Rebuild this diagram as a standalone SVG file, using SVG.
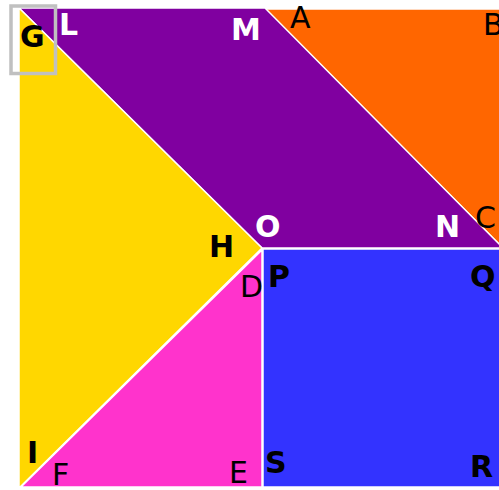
<svg xmlns="http://www.w3.org/2000/svg" width="499" height="490" viewBox="0 0 499 490">
<style>
.p{stroke:#ffffff;stroke-width:1.5;stroke-linejoin:round}
text{font-family:"DejaVu Sans",sans-serif;font-size:30px}
.b{font-weight:bold}
.k{fill:#000000}
.w{fill:#ffffff}
</style>
<rect width="499" height="490" fill="#ffffff"/>
<g id="orange"><polygon class="p" fill="#ff6600" points="265,9 503,9 503,248"/></g>
<g id="purple"><polygon class="p" fill="#8000a0" points="19,8 265,8 503,248 262,248"/></g>
<g id="yellow"><polygon class="p" fill="#ffd700" points="19,8 262,248 19,488"/></g>
<g id="blue"><rect class="p" fill="#3333ff" x="263" y="249" width="240" height="238"/></g>
<g id="pink"><polygon class="p" fill="#ff33cc" points="262,250 262,487 21,487"/></g>
<g id="box"><rect x="11" y="6" width="44.5" height="67.5" fill="none" stroke="#c0c0c0" stroke-width="3.5"/></g>
<g id="labels">
<text class="b k" x="20" y="47">G</text>
<text class="b w" x="59" y="35">L</text>
<text class="b w" x="231" y="40">M</text>
<text class="k" x="290" y="28">A</text>
<text class="k" x="483" y="35">B</text>
<text class="b w" x="255" y="237">O</text>
<text class="b w" x="435" y="237">N</text>
<text class="k" x="475" y="228">C</text>
<text class="b k" x="209" y="257">H</text>
<text class="b k" x="268" y="287">P</text>
<text class="k" x="240" y="297">D</text>
<text class="b k" x="470" y="287">Q</text>
<text class="b k" x="27" y="463">I</text>
<text class="k" x="52" y="485">F</text>
<text class="k" x="229" y="483">E</text>
<text class="b k" x="265" y="473">S</text>
<text class="b k" x="470" y="477">R</text>
</g>
</svg>
